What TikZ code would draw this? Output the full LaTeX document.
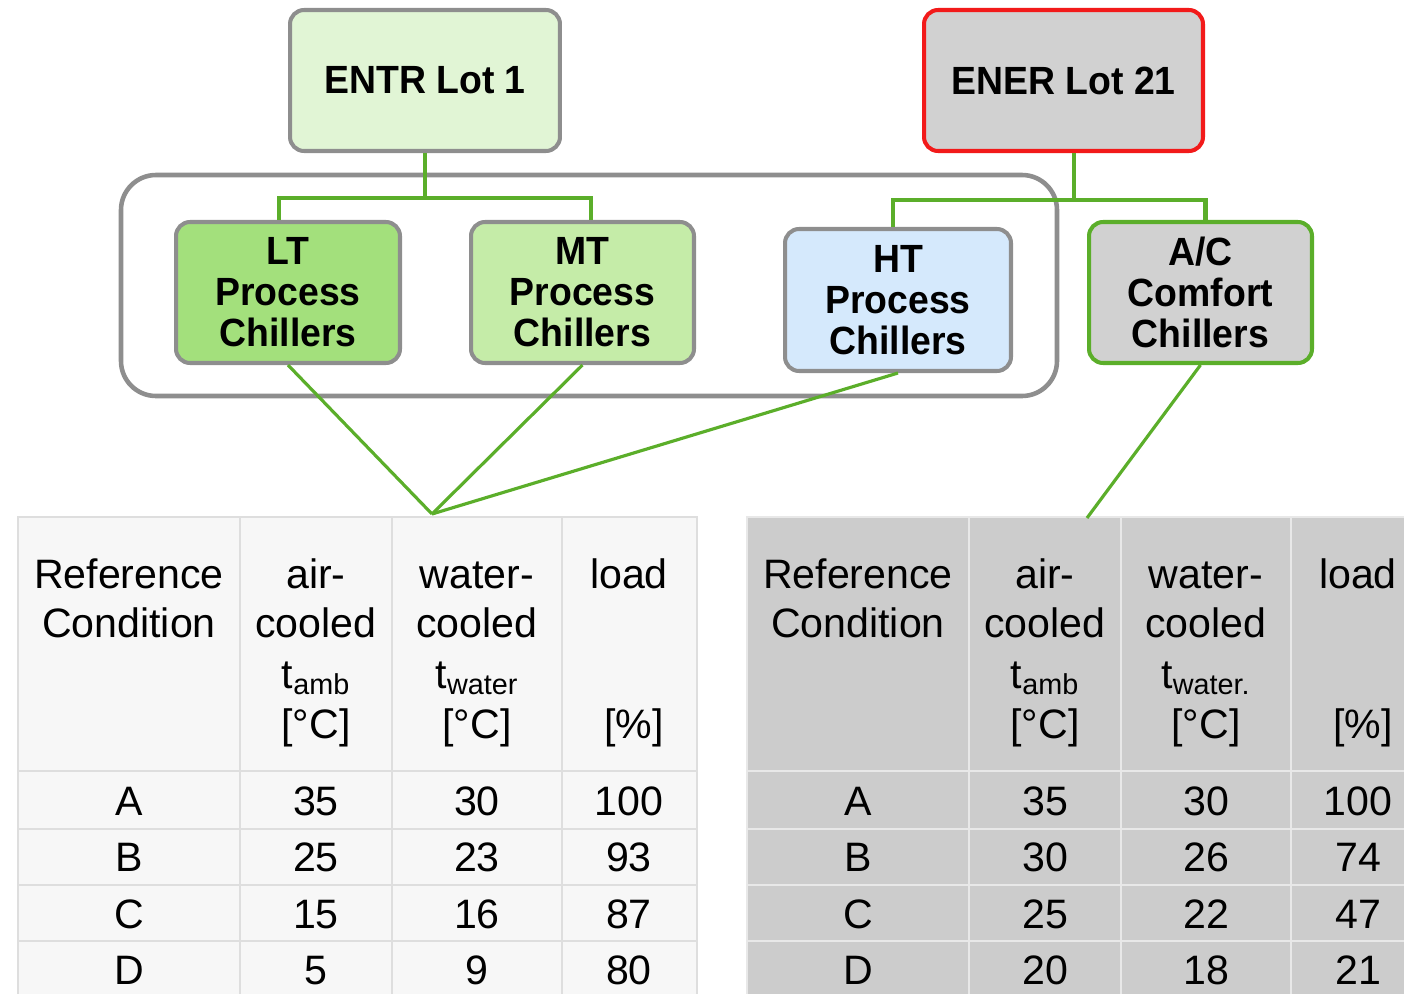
\documentclass[tikz,border=0pt]{standalone}
\usepackage{fontspec}
\setmainfont{Liberation Sans}
\newfontfamily\lotfamily[FakeStretch=0.95]{Liberation Sans}
\usepackage{tikz}
\definecolor{linkgreen}{HTML}{5BAE2A}
\definecolor{boxgray}{HTML}{8E8E8E}
\definecolor{lotred}{HTML}{F21A1A}
\definecolor{entrfill}{HTML}{E1F5D5}
\definecolor{ltfill}{HTML}{A3E07C}
\definecolor{mtfill}{HTML}{C5ECA8}
\definecolor{htfill}{HTML}{D5E9FC}
\definecolor{greyfill}{HTML}{D1D1D1}
\definecolor{tabwhite}{HTML}{F7F7F7}
\definecolor{tabgrey}{HTML}{CCCCCC}
\definecolor{gridgrey}{HTML}{DEDEDE}
\definecolor{gridwhite}{HTML}{E8E8E8}
\newcommand{\lotfont}{\lotfamily\fontsize{22.4pt}{23.4pt}\selectfont\bfseries}
\newcommand{\tabfont}{\fontsize{23.4pt}{28pt}\selectfont}
\tikzstyle{lot}=[rectangle, rounded corners=0.28cm, line width=2.3pt, draw=boxgray,
                 align=center, font=\lotfont, inner sep=0pt]
\tikzstyle{link}=[draw=linkgreen, line width=2.3pt]
\tikzstyle{slant}=[draw=linkgreen, line width=1.8pt]
\tikzstyle{cell}=[anchor=base, inner sep=0pt, font=\tabfont]

\begin{document}
\begin{tikzpicture}[x=0.02cm, y=-0.02cm]
    \useasboundingbox (0,0) rectangle (1404,994);
    \clip (0,0) rectangle (1404,994);
    % tables
    \foreach \dx/\fc/\lc in {0/tabwhite/gridgrey, 729/tabgrey/gridwhite} {
      \fill[\fc] (18+\dx,517) rectangle (697+\dx,1010);
      \draw[\lc, line width=1.2pt] (18+\dx,1010) -- (18+\dx,517) -- (697+\dx,517)
        -- (697+\dx,1010);
      \foreach \ry in {771, 829, 885, 941}
        \draw[\lc, line width=1.6pt] (18+\dx,\ry) -- (697+\dx,\ry);
      \foreach \cx in {240, 392, 562}
        \draw[\lc, line width=1.2pt] (\cx+\dx,517) -- (\cx+\dx,1010);
    }
    % group frame
    \draw[boxgray, line width=2.6pt, rounded corners=0.7cm] (121,175) rectangle (1057,396);
    % lot boxes
    \node[lot, fill=entrfill, minimum width=5.4cm, minimum height=2.82cm] (entr)
      at (425,80.5) {ENTR Lot 1};
    \node[lot, fill=greyfill, draw=lotred, minimum width=5.58cm, minimum height=2.82cm] (ener)
      at (1063.5,80.5) {ENER Lot 21};
    \node[lot, fill=ltfill, minimum width=4.48cm, minimum height=2.82cm] (lt)
      at (288,292.5) {LT\\Process\\Chillers};
    \node[lot, fill=mtfill, minimum width=4.46cm, minimum height=2.82cm] (mt)
      at (582.5,292.5) {MT\\Process\\Chillers};
    \node[lot, fill=htfill, minimum width=4.52cm, minimum height=2.84cm] (ht)
      at (898,300) {HT\\Process\\Chillers};
    \node[lot, fill=greyfill, draw=linkgreen, minimum width=4.46cm, minimum height=2.82cm] (ac)
      at (1200.5,292.5) {A/C\\Comfort\\Chillers};
    % connectors
    \coordinate (busL) at (425,198);
    \coordinate (busR) at (1074,200);
    \coordinate (tabL) at (432,514);
    \coordinate (tabR) at (1087,518);
    \draw[link] ([xshift=-0.18cm]lt.north) |- (busL) -| ([xshift=0.17cm]mt.north);
    \draw[link] (entr.south) -- (busL);
    \draw[link] ([xshift=-0.1cm]ht.north) |- (busR) -| ([xshift=0.1cm]ac.north);
    \draw[link] (ener.south -| busR) -- (busR);
    \foreach \from/\to in {lt/tabL, mt/tabL, ht/tabL, ac/tabR}
      \draw[slant] (\from.south) -- (\to);
    % table headers
    \foreach \dx/\tb/\sw in {0/L/water, 729/R/water.} {
      \node[cell] (ref\tb) at (129+\dx,588) {Reference};
      \node[cell] (cond\tb) at (129+\dx,637) {Condition};
      \node[cell] (air\tb) at (316+\dx,588) {air-};
      \node[cell] (acool\tb) at (316+\dx,637) {cooled};
      \node[cell] (tamb\tb) at (316+\dx,688) {t\textsubscript{amb}};
      \node[cell] (aunit\tb) at (316+\dx,738) {[°C]};
      \node[cell] (wat\tb) at (477+\dx,588) {water-};
      \node[cell] (wcool\tb) at (477+\dx,637) {cooled};
      \node[cell] (twat\tb) at (477+\dx,688) {t\textsubscript{\sw}};
      \node[cell] (wunit\tb) at (477+\dx,738) {[°C]};
      \node[cell] (load\tb) at (629+\dx,588) {load};
      \node[cell] (lunit\tb) at (634+\dx,738) {[\%]};
    }
    % table rows
    \foreach \y/\rc/\ta/\tw/\ld in {815/A/35/30/100, 871/B/25/23/93, 928/C/15/16/87,
          984/D/5/9/80} {
      \node[cell] (L\rc0) at (129,\y) {\rc};
      \node[cell] (L\rc1) at (316,\y) {\ta};
      \node[cell] (L\rc2) at (477,\y) {\tw};
      \node[cell] (L\rc3) at (629,\y) {\ld};
    }
    \foreach \y/\rc/\ta/\tw/\ld in {815/A/35/30/100, 871/B/30/26/74, 928/C/25/22/47,
          984/D/20/18/21} {
      \node[cell] (R\rc0) at (858,\y) {\rc};
      \node[cell] (R\rc1) at (1045,\y) {\ta};
      \node[cell] (R\rc2) at (1206,\y) {\tw};
      \node[cell] (R\rc3) at (1358,\y) {\ld};
    }
\end{tikzpicture}
\end{document}
